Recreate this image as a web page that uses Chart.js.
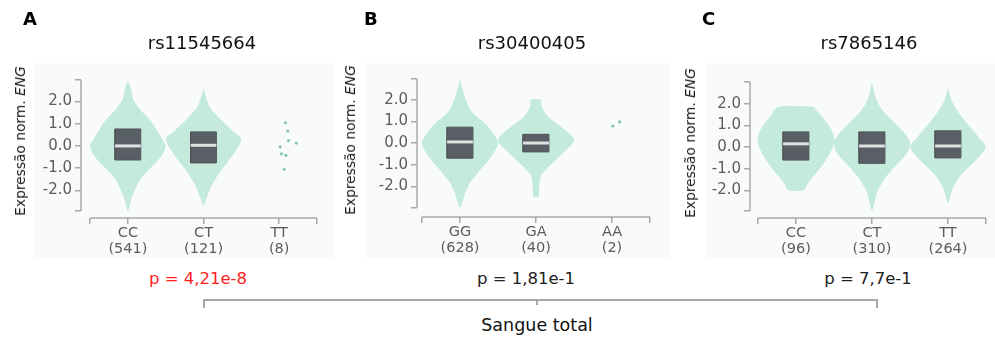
<!DOCTYPE html>
<html>
<head>
<meta charset="utf-8">
<script src="https://cdn.jsdelivr.net/npm/chart.js@4.4.1/dist/chart.umd.min.js"></script>
<style>
  html, body { margin:0; padding:0; background:#fff; }
  body { width:995px; height:338px; position:relative; overflow:hidden; font-family:'DejaVu Sans', sans-serif; }
  .bg { position:absolute; background:#f9fbfb; }
  canvas { position:absolute; top:0; }
  .letter { position:absolute; font-weight:bold; font-size:18px; line-height:18px; color:#000; }
  .title { position:absolute; font-size:18px; line-height:18px; color:#111; text-align:center; width:200px; }
  .ytitle { position:absolute; font-size:13.8px; line-height:14px; color:#1a1a1a; white-space:nowrap; transform:translate(-50%,-50%) rotate(-90deg); }
  .pval { position:absolute; font-size:16.5px; line-height:16.5px; color:#222; text-align:center; width:160px; white-space:nowrap; }
  .bracket { position:absolute; background:#a8a8a8; }
  .group { position:absolute; font-size:17.5px; line-height:17.5px; color:#111; text-align:center; width:200px; }
</style>
</head>
<body>
<div class="bg" style="left:35px;top:63px;width:298px;height:195px"></div>
<div class="bg" style="left:365px;top:63px;width:305px;height:195px"></div>
<div class="bg" style="left:705px;top:63px;width:290px;height:195px"></div>

<canvas id="cA" width="340" height="262" style="left:0px"></canvas>
<canvas id="cB" width="340" height="262" style="left:340px"></canvas>
<canvas id="cC" width="315" height="262" style="left:680px"></canvas>

<div class="letter" style="left:23px;top:10px">A</div>
<div class="letter" style="left:364px;top:10px">B</div>
<div class="letter" style="left:702px;top:10px">C</div>

<div class="title" style="left:102px;top:34px">rs11545664</div>
<div class="title" style="left:432px;top:34px">rs30400405</div>
<div class="title" style="left:769px;top:34px">rs7865146</div>

<div class="ytitle" style="left:20px;top:141px">Expressão norm. <i>ENG</i></div>
<div class="ytitle" style="left:350px;top:140px">Expressão norm. <i>ENG</i></div>
<div class="ytitle" style="left:690px;top:143px">Expressão norm. <i>ENG</i></div>

<div class="pval" style="left:118px;top:271px;color:#ff1f1f">p = 4,21e-8</div>
<div class="pval" style="left:446px;top:271px">p = 1,81e-1</div>
<div class="pval" style="left:788px;top:271px">p = 7,7e-1</div>

<div class="bracket" style="left:203px;top:299px;width:675px;height:1.5px"></div>
<div class="bracket" style="left:203px;top:299px;width:1.5px;height:9px"></div>
<div class="bracket" style="left:876px;top:299px;width:1.5px;height:9px"></div>
<div class="bracket" style="left:536px;top:299px;width:1.5px;height:6px"></div>
<div class="group" style="left:437px;top:317px">Sangue total</div>

<script>
// ---------- DATA ----------
const yTickValues = [-2, -1, 0, 1, 2];

// Panel A : rs11545664
const catsA = ['CC', 'CT', 'TT'];
const countsA = ['(541)', '(121)', '(8)'];
const violinA_CC_y = [2.96, 2.5, 2.06, 1.6, 1.17, 0.72, 0.27, 0, -0.5, -1.0, -1.5, -2.0, -2.4, -2.91];
const violinA_CC_w = [0, 0.09, 0.15, 0.34, 0.58, 0.76, 0.92, 1.0, 0.87, 0.59, 0.33, 0.18, 0.09, 0];
const violinA_CT_y = [2.59, 2.06, 1.7, 1.3, 0.58, 0.35, -0.03, -0.63, -1.2, -1.83, -2.4, -2.68];
const violinA_CT_w = [0, 0.09, 0.18, 0.39, 0.83, 0.99, 0.92, 0.68, 0.42, 0.2, 0.07, 0];
const boxA_q3 = [0.76, 0.63];
const boxA_med = [0.0, 0.03];
const boxA_q1 = [-0.63, -0.76];
const pointsA_TT_x = [2.083, 2.115, 2.123, 2.225, 2.013, 2.03, 2.089, 2.066];
const pointsA_TT_y = [1.04, 0.67, 0.24, 0.13, -0.04, -0.36, -0.42, -1.05];

// Panel B : rs30400405
const catsB = ['GG', 'GA', 'AA'];
const countsB = ['(628)', '(40)', '(2)'];
const violinB_GG_y = [2.95, 2.0, 1.37, 0.9, 0.44, 0, -0.63, -1.24, -1.84, -2.3, -2.96];
const violinB_GG_w = [0, 0.15, 0.34, 0.66, 0.87, 1.0, 0.82, 0.53, 0.26, 0.14, 0];
const violinB_GA_y = [2.0, 1.68, 1.22, 0.75, 0.14, -0.48, -1.09, -1.55, -2.3, -2.47];
const violinB_GA_w = [0.14, 0.15, 0.31, 0.66, 1.0, 0.7, 0.33, 0.12, 0.08, 0.07];
const boxB_q3 = [0.73, 0.4];
const boxB_med = [0.05, 0.0];
const boxB_q1 = [-0.7, -0.41];
const pointsB_AA_x = [2.01, 2.1];
const pointsB_AA_y = [0.78, 0.97];

// Panel C : rs7865146
const catsC = ['CC', 'CT', 'TT'];
const countsC = ['(96)', '(310)', '(264)'];
const violinC_CC_y = [1.86, 1.4, 0.94, 0.47, 0, -0.6, -1.2, -1.66, -1.98];
const violinC_CC_w = [0.46, 0.68, 0.89, 1.0, 0.97, 0.79, 0.53, 0.31, 0.21];
const violinC_CT_y = [3.0, 2.17, 1.56, 0.94, 0.25, -0.28, -0.9, -1.52, -2.12, -2.6, -2.93];
const violinC_CT_w = [0, 0.12, 0.34, 0.70, 1.0, 0.92, 0.60, 0.31, 0.13, 0.06, 0];
const violinC_TT_y = [2.73, 2.17, 1.56, 0.94, 0.47, 0, -0.6, -1.2, -1.83, -2.29, -2.57];
const violinC_TT_w = [0, 0.09, 0.29, 0.57, 0.80, 0.99, 0.74, 0.39, 0.14, 0.06, 0];
const boxC_q3 = [0.7, 0.7, 0.75];
const boxC_med = [0.15, 0.05, 0.05];
const boxC_q1 = [-0.6, -0.75, -0.5];

// ---------- STYLE ----------
const VIOLIN_HALF = 0.5;
const BOX_HALF = 0.17;
const VIOLIN_COLOR = '#c3eadb';
const BOX_COLOR = '#5a5f66';
const MEDIAN_COLOR = '#e2e2e2';
const POINT_COLOR = '#86c6ad';
const AXIS_COLOR = '#a9a9a9';
const TICK_TEXT = '#5c5c5c';

Chart.defaults.font.family = "'DejaVu Sans', sans-serif";

function violinPoints(cx, ys, ws) {
  const n = ys.length;
  const pts = [];
  for (let i = 0; i < n; i++) pts.push({ x: cx + ws[i] * VIOLIN_HALF, y: ys[i] });
  for (let i = n - 1; i >= 0; i--) {
    if (i === n - 1 && ws[i] === 0) continue;
    if (i === 0 && ws[i] === 0) continue;
    pts.push({ x: cx - ws[i] * VIOLIN_HALF, y: ys[i] });
  }
  pts.push({ x: pts[0].x, y: pts[0].y });
  return pts;
}
function violinDataset(cx, ys, ws) {
  return { data: violinPoints(cx, ys, ws), showLine: true, fill: 'shape', tension: 0.3,
           backgroundColor: VIOLIN_COLOR, borderColor: 'rgba(0,0,0,0)', borderWidth: 0,
           pointRadius: 0, order: 4 };
}
function boxDatasets(q1, med, q3) {
  const out = [];
  for (let i = 0; i < q1.length; i++) {
    out.push({ data: [ {x: i - BOX_HALF, y: q1[i]}, {x: i + BOX_HALF, y: q1[i]}, {x: i + BOX_HALF, y: q3[i]},
                       {x: i - BOX_HALF, y: q3[i]}, {x: i - BOX_HALF, y: q1[i]} ],
               showLine: true, fill: 'shape', tension: 0, backgroundColor: BOX_COLOR,
               borderColor: '#50555b', borderWidth: 1, borderJoinStyle: 'miter', pointRadius: 0, order: 2 });
    out.push({ data: [ {x: i - BOX_HALF, y: med[i]}, {x: i + BOX_HALF, y: med[i]} ],
               showLine: true, fill: false, borderColor: MEDIAN_COLOR, borderWidth: 3, borderCapStyle: 'butt',
               pointRadius: 0, order: 1 });
  }
  return out;
}
function pointDataset(xs, ys) {
  return { data: xs.map((x, i) => ({ x, y: ys[i] })), showLine: false, pointRadius: 1.6,
           pointBackgroundColor: POINT_COLOR, pointBorderWidth: 0, order: 3 };
}

const domainPlugin = {
  id: 'domain',
  afterDraw(chart, args, o) {
    const { ctx, chartArea } = chart;
    const x = chart.scales.x, y = chart.scales.y;
    ctx.save();
    ctx.strokeStyle = AXIS_COLOR;
    ctx.lineWidth = 1.5;
    ctx.beginPath();
    ctx.moveTo(chartArea.left, y.getPixelForValue(o.yTop));
    ctx.lineTo(chartArea.left, y.getPixelForValue(o.yBottom));
    ctx.moveTo(x.getPixelForValue(o.xStart), chartArea.bottom);
    ctx.lineTo(x.getPixelForValue(o.xEnd), chartArea.bottom);
    ctx.stroke();
    ctx.restore();
  }
};

function makePanel(id, p) {
  new Chart(document.getElementById(id), {
    type: 'scatter',
    data: { datasets: p.datasets },
    plugins: [domainPlugin],
    options: {
      responsive: false, animation: false, devicePixelRatio: 1,
      layout: { padding: p.padding },
      plugins: { legend: { display: false }, tooltip: { enabled: false },
                 domain: { yTop: p.yDomain[1], yBottom: p.yDomain[0], xStart: -0.5, xEnd: p.cats.length - 0.5 } },
      scales: {
        x: {
          type: 'linear', min: p.xMin, max: p.cats.length - 0.5,
          afterBuildTicks: s => { s.ticks = [-0.5].concat(p.cats.map((c, i) => i), [p.cats.length - 0.5]).map(v => ({ value: v })); },
          afterFit: s => { s.height = p.xAxisHeight; },
          ticks: { autoSkip: false, maxRotation: 0, padding: 2, color: TICK_TEXT,
                   font: { size: 14.5, lineHeight: 1.05 },
                   callback: v => Number.isInteger(v) ? [p.cats[v], p.counts[v]] : '' },
          grid: { drawOnChartArea: false, drawTicks: true, tickLength: 6, color: AXIS_COLOR, lineWidth: 1.5 },
          border: { display: false }
        },
        y: {
          type: 'linear', min: p.yMin, max: p.yMax,
          afterBuildTicks: s => { s.ticks = [p.yDomain[0]].concat(yTickValues, [p.yDomain[1]]).map(v => ({ value: v })); },
          afterFit: s => { s.width = 50; },
          ticks: { autoSkip: false, padding: 3, color: TICK_TEXT, font: { size: 15 },
                   callback: v => yTickValues.includes(v) ? v.toFixed(1) : '' },
          grid: { drawOnChartArea: false, drawTicks: true, tickLength: 6, color: AXIS_COLOR, lineWidth: 1.5 },
          border: { display: false }
        }
      }
    }
  });
}

makePanel('cA', {
  cats: catsA, counts: countsA,
  yMin: -3.23, yMax: 3.0, yDomain: [-2.91, 2.96], xMin: -0.62, xAxisHeight: 44,
  padding: { left: 31, right: 23, top: 79, bottom: 0 },
  datasets: [
    violinDataset(0, violinA_CC_y, violinA_CC_w),
    violinDataset(1, violinA_CT_y, violinA_CT_w),
    ...boxDatasets(boxA_q1, boxA_med, boxA_q3),
    pointDataset(pointsA_TT_x, pointsA_TT_y)
  ]
});
makePanel('cB', {
  cats: catsB, counts: countsB,
  yMin: -3.41, yMax: 2.95, yDomain: [-3.0, 2.95], xMin: -0.566, xAxisHeight: 45,
  padding: { left: 27, right: 30, top: 79, bottom: 0 },
  datasets: [
    violinDataset(0, violinB_GG_y, violinB_GG_w),
    violinDataset(1, violinB_GA_y, violinB_GA_w),
    ...boxDatasets(boxB_q1, boxB_med, boxB_q3),
    pointDataset(pointsB_AA_x, pointsB_AA_y)
  ]
});
makePanel('cC', {
  cats: catsC, counts: countsC,
  yMin: -3.27, yMax: 3.0, yDomain: [-2.95, 3.0], xMin: -0.605, xAxisHeight: 44,
  padding: { left: 20, right: 9, top: 82, bottom: 0 },
  datasets: [
    violinDataset(0, violinC_CC_y, violinC_CC_w),
    violinDataset(1, violinC_CT_y, violinC_CT_w),
    violinDataset(2, violinC_TT_y, violinC_TT_w),
    ...boxDatasets(boxC_q1, boxC_med, boxC_q3)
  ]
});
</script>
</body>
</html>
